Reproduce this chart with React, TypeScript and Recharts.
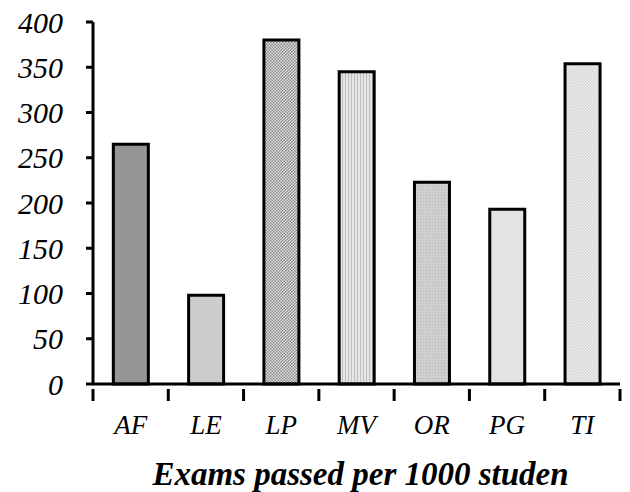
import { BarChart, Bar, XAxis, YAxis, Cell, Label } from 'recharts'

const categories = ['AF', 'LE', 'LP', 'MV', 'OR', 'PG', 'TI']
const values = [265, 98, 380, 345, 223, 193, 354]
const yTicks = [0, 50, 100, 150, 200, 250, 300, 350, 400]
const fills = ['#969696', '#cccccc', 'url(#pLP)', 'url(#pMV)', 'url(#pOR)', '#e3e3e3', 'url(#pTI)']

const data = categories.map((name, i) => ({ name, value: values[i] }))

const FONT = '"Liberation Serif", "Times New Roman", serif'
const BAND = 75.3

function XTick(props: Record<string, unknown>) {
  const { x, y, payload, index } = props as { x: number; y: number; payload: { value: string }; index: number }
  const left = x - BAND / 2
  return (
    <g>
      <line x1={left} y1={y - 3} x2={left} y2={y + 9} stroke="#000" strokeWidth={3} />
      {index === categories.length - 1 && (
        <line x1={x + BAND / 2} y1={y - 3} x2={x + BAND / 2} y2={y + 9} stroke="#000" strokeWidth={3} />
      )}
      <text x={x} y={y + 42} textAnchor="middle" fontFamily={FONT} fontStyle="italic" fontSize={27} fill="#000">
        {payload.value}
      </text>
    </g>
  )
}

export default function App() {
  return (
    <div style={{ position: 'absolute', left: 0, top: 0, width: 630, height: 492, background: '#fff' }}>
      <BarChart width={630} height={492} data={data} barCategoryGap="27%" margin={{ top: 22, right: 10, bottom: 0, left: 0 }}>
        <defs>
          <pattern id="pLP" width="3" height="3" patternUnits="userSpaceOnUse">
            <rect width="3" height="3" fill="#e0e0e0" />
            <rect width="1.5" height="1.5" fill="#8a8a8a" />
            <rect x="1.5" y="1.5" width="1.5" height="1.5" fill="#8a8a8a" />
          </pattern>
          <pattern id="pMV" width="3" height="3" patternUnits="userSpaceOnUse">
            <rect width="3" height="3" fill="#e6e6e6" />
            <rect width="1" height="3" fill="#bdbdbd" />
          </pattern>
          <pattern id="pOR" width="3" height="3" patternUnits="userSpaceOnUse">
            <rect width="3" height="3" fill="#cfcfcf" />
            <rect width="1" height="1" fill="#b4b4b4" />
          </pattern>
          <pattern id="pTI" width="3" height="3" patternUnits="userSpaceOnUse">
            <rect width="3" height="3" fill="#f3f3f3" />
            <rect width="1.5" height="1.5" fill="#d0d0d0" />
            <rect x="1.5" y="1.5" width="1.5" height="1.5" fill="#d0d0d0" />
          </pattern>
        </defs>
        <XAxis
          dataKey="name"
          height={108}
          axisLine={{ stroke: '#000', strokeWidth: 3 }}
          tickLine={false}
          tick={<XTick />}
          interval={0}
        >
          <Label
            value="Exams passed per 1000 studen"
            position="insideBottom"
            offset={7}
            dx={4}
            style={{ fontFamily: FONT, fontStyle: 'italic', fontWeight: 'bold', fontSize: 33, fill: '#000' }}
          />
        </XAxis>
        <YAxis
          width={93}
          domain={[0, 400]}
          ticks={yTicks}
          interval={0}
          axisLine={{ stroke: '#000', strokeWidth: 3 }}
          tickLine={{ stroke: '#000', strokeWidth: 3 }}
          tickSize={7}
          tickMargin={23}
          tick={{ fontFamily: FONT, fontStyle: 'italic', fontSize: 30, fill: '#000' }}
        />
        <Bar dataKey="value" stroke="#000" strokeWidth={3} isAnimationActive={false}>
          {data.map((d, i) => (
            <Cell key={d.name} fill={fills[i]} />
          ))}
        </Bar>
      </BarChart>
    </div>
  )
}
